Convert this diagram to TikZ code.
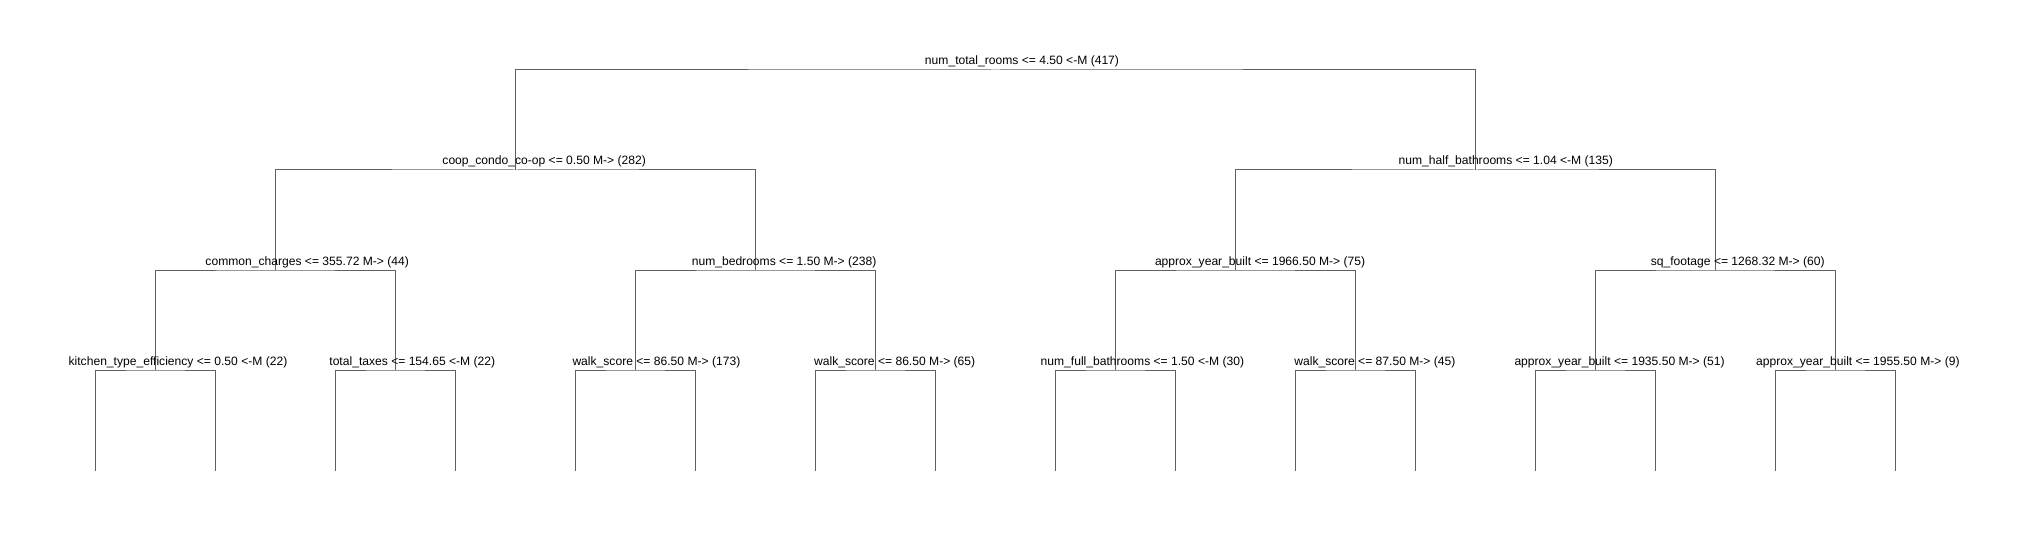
\documentclass[tikz,border=0pt]{standalone}
\usepackage{fontspec}
\setmainfont{Liberation Sans}
\definecolor{edgegray}{RGB}{95,95,95}
\begin{document}
\begin{tikzpicture}[x=1pt,y=-1pt,
  edge/.style={draw=edgegray,line width=1pt},
  lbl/.style={anchor=base,inner sep=0pt,font=\fontsize{12.1}{14}\selectfont}]
\useasboundingbox (0,0) rectangle (2028,540);
% tree nodes
\coordinate (r) at (995.6,70);
\coordinate (a) at (515.6,170);
\coordinate (b) at (1475.6,170);
\coordinate (aa) at (275.6,270);
\coordinate (ab) at (755.6,270);
\coordinate (ba) at (1235.6,270);
\coordinate (bb) at (1715.6,270);
\coordinate (aaa) at (155.6,370);
\coordinate (aab) at (395.6,370);
\coordinate (aba) at (635.6,370);
\coordinate (abb) at (875.6,370);
\coordinate (baa) at (1115.6,370);
\coordinate (bab) at (1355.6,370);
\coordinate (bba) at (1595.6,370);
\coordinate (bbb) at (1835.6,370);
\foreach \k in {0,...,15} {\coordinate (L\k) at (95.6+120*\k,471);}
% connectors
\draw[edge] (a) |- (r) -| (b);
\draw[edge] (aa) |- (a) -| (ab);
\draw[edge] (ba) |- (b) -| (bb);
\draw[edge] (aaa) |- (aa) -| (aab);
\draw[edge] (aba) |- (ab) -| (abb);
\draw[edge] (baa) |- (ba) -| (bab);
\draw[edge] (bba) |- (bb) -| (bbb);
\draw[edge] (L0) |- (aaa) -| (L1);
\draw[edge] (L2) |- (aab) -| (L3);
\draw[edge] (L4) |- (aba) -| (L5);
\draw[edge] (L6) |- (abb) -| (L7);
\draw[edge] (L8) |- (baa) -| (L9);
\draw[edge] (L10) |- (bab) -| (L11);
\draw[edge] (L12) |- (bba) -| (L13);
\draw[edge] (L14) |- (bbb) -| (L15);
% labels
\node[lbl] (tr) at (1022,65) {num\_total\_rooms <= 4.50 <-M (417)};
\node[lbl] (ta) at (544.2,165) {coop\_condo\_co-op <= 0.50 M-> (282)};
\node[lbl] (tb) at (1505.8,165) {num\_half\_bathrooms <= 1.04 <-M (135)};
\node[lbl] (taa) at (307.2,265) {common\_charges <= 355.72 M-> (44)};
\node[lbl] (tab) at (784.1,265) {num\_bedrooms <= 1.50 M-> (238)};
\node[lbl] (tba) at (1260.1,265) {approx\_year\_built <= 1966.50 M-> (75)};
\node[lbl] (tbb) at (1737.7,265) {sq\_footage <= 1268.32 M-> (60)};
\node[lbl] (taaa) at (178,365) {kitchen\_type\_efficiency <= 0.50 <-M (22)};
\node[lbl] (taab) at (412.3,365) {total\_taxes <= 154.65 <-M (22)};
\node[lbl] (taba) at (656.4,365) {walk\_score <= 86.50 M-> (173)};
\node[lbl] (tabb) at (894.7,365) {walk\_score <= 86.50 M-> (65)};
\node[lbl] (tbaa) at (1142.4,365) {num\_full\_bathrooms <= 1.50 <-M (30)};
\node[lbl] (tbab) at (1374.9,365) {walk\_score <= 87.50 M-> (45)};
\node[lbl] (tbba) at (1619.6,365) {approx\_year\_built <= 1935.50 M-> (51)};
\node[lbl] (tbbb) at (1857.9,365) {approx\_year\_built <= 1955.50 M-> (9)};
\end{tikzpicture}
\end{document}
